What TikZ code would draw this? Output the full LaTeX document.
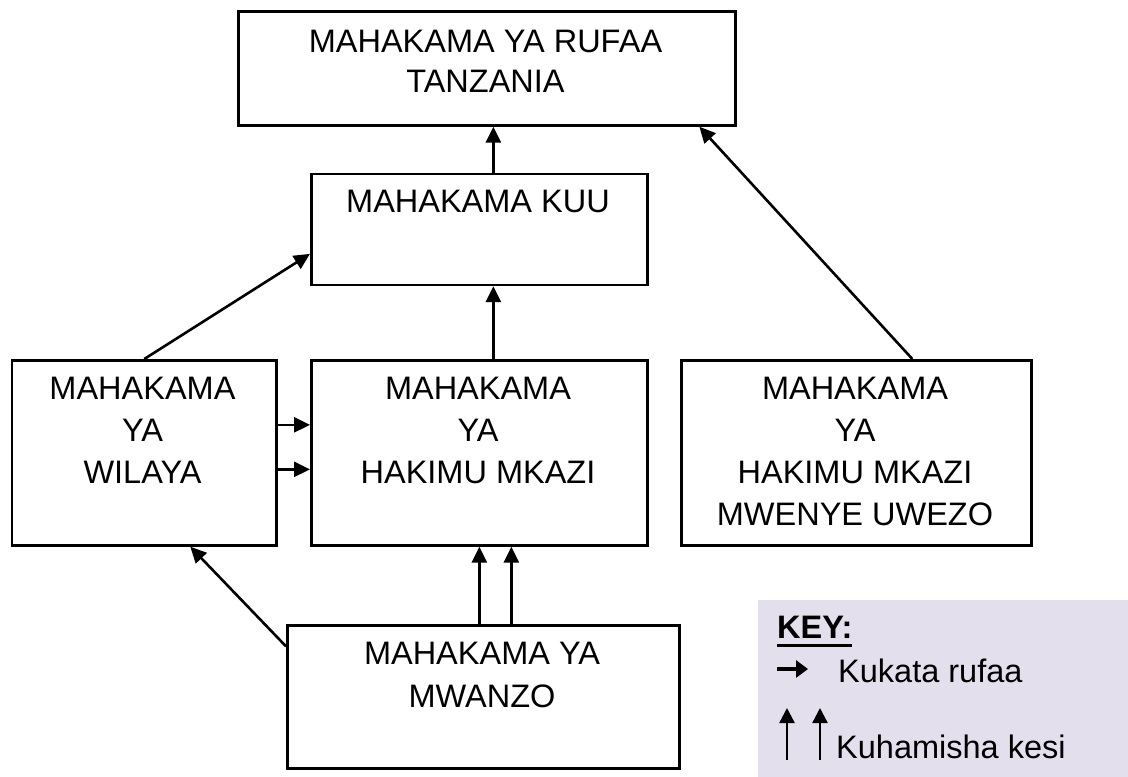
\documentclass[tikz,border=0pt]{standalone}
\usepackage{fontspec}
\setmainfont{Liberation Sans}
\newcommand\keyul[1]{\setbox0\hbox{#1}\rlap{\rule[-8.5pt]{\wd0}{3pt}}\box0}
\usetikzlibrary{arrows.meta}
\definecolor{keyfill}{RGB}{228,223,236}
\begin{document}
\begin{tikzpicture}[x=1pt,y=-1pt,
  box/.style={draw, line width=2.7pt, inner sep=0pt, anchor=north west},
  lbl/.style={inner sep=0pt, anchor=north, align=center, font=\fontsize{32.5}{42}\selectfont},
  keytxt/.style={inner sep=0pt, anchor=base west, font=\fontsize{32.5}{38}\selectfont},
  arr/.style={line width=2.6pt, -{Triangle[length=16pt,width=15pt]}},
]
\useasboundingbox (0,0) rectangle (1128,777);
% key background
\fill[keyfill] (758,600) rectangle (1128,777);

% boxes
\node[box, minimum width=497pt, minimum height=114pt] (top) at (237,10) {};
\node[box, minimum width=336pt, minimum height=111pt] (kuu) at (310,172.5) {};
\node[box, minimum width=264.5pt, minimum height=185pt] (wil) at (10.7,359) {};
\node[box, minimum width=336pt, minimum height=185pt] (hm) at (310,359) {};
\node[box, minimum width=350pt, minimum height=185pt] (rt) at (680,359) {};
\node[box, minimum width=392pt, minimum height=143pt] (mw) at (286,624) {};

% texts
\node[lbl, font=\fontsize{32.5}{40}\selectfont] (topT) at (485.5,30) {MAHAKAMA YA RUFAA\\TANZANIA};
\node[lbl] (kuuT) at (478,190) {MAHAKAMA KUU};
\node[lbl] (wilT) at (142.5,376.7) {MAHAKAMA\\YA\\WILAYA};
\node[lbl] (hmT) at (478,376.7) {MAHAKAMA\\YA\\HAKIMU MKAZI};
\node[lbl] (rtT) at (855,376.7) {MAHAKAMA\\YA\\HAKIMU MKAZI\\MWENYE UWEZO};
\node[lbl, font=\fontsize{32.5}{43.3}\selectfont] (mwT) at (482,641.7) {MAHAKAMA YA\\MWANZO};

% connectors
\draw[arr] ([xshift=14pt]hm.north) -- ([xshift=14pt]kuu.south);
\draw[arr] ([xshift=14pt]kuu.north) -- ([xshift=6.5pt]top.south);
\draw[arr] (wil.north) -- ([yshift=-24.5pt]kuu.west);
\draw[arr] ([xshift=56pt]rt.north) -- ([xshift=212.5pt]top.south);
\draw[arr] ([yshift=28pt]wil.east) -- ([yshift=28pt]hm.west);
\draw[arr] ([yshift=-16.5pt]wil.east) -- ([yshift=-16.5pt]hm.west);
\draw[arr] ([xshift=-4pt]mw.north) -- ([xshift=-4pt]mw.north |- hm.south);
\draw[arr] ([xshift=28pt]mw.north) -- ([xshift=28pt]mw.north |- hm.south);
\draw[arr] ([yshift=50.5pt]mw.west) -- ([xshift=46pt]wil.south);

% key
\node[keytxt, font=\fontsize{32.5}{38}\selectfont\bfseries] (keyT) at (777,638) {\keyul{KEY:}};
\node[keytxt] (k1) at (838,682) {Kukata rufaa};
\node[keytxt] (k2) at (836,758) {Kuhamisha kesi};
\coordinate (ka1) at (777,669);
\coordinate (ka2) at (808,669);
\draw[line width=3.2pt, -{Triangle[length=12pt,width=17pt]}] (ka1) -- (ka2);
\coordinate (ku1a) at (787,760);
\coordinate (ku1b) at (787,708);
\coordinate (ku2a) at (820,760);
\coordinate (ku2b) at (820,708);
\draw[line width=2.4pt, -{Triangle[length=15pt,width=15pt]}] (ku1a) -- (ku1b);
\draw[line width=2.4pt, -{Triangle[length=15pt,width=15pt]}] (ku2a) -- (ku2b);
\end{tikzpicture}
\end{document}
